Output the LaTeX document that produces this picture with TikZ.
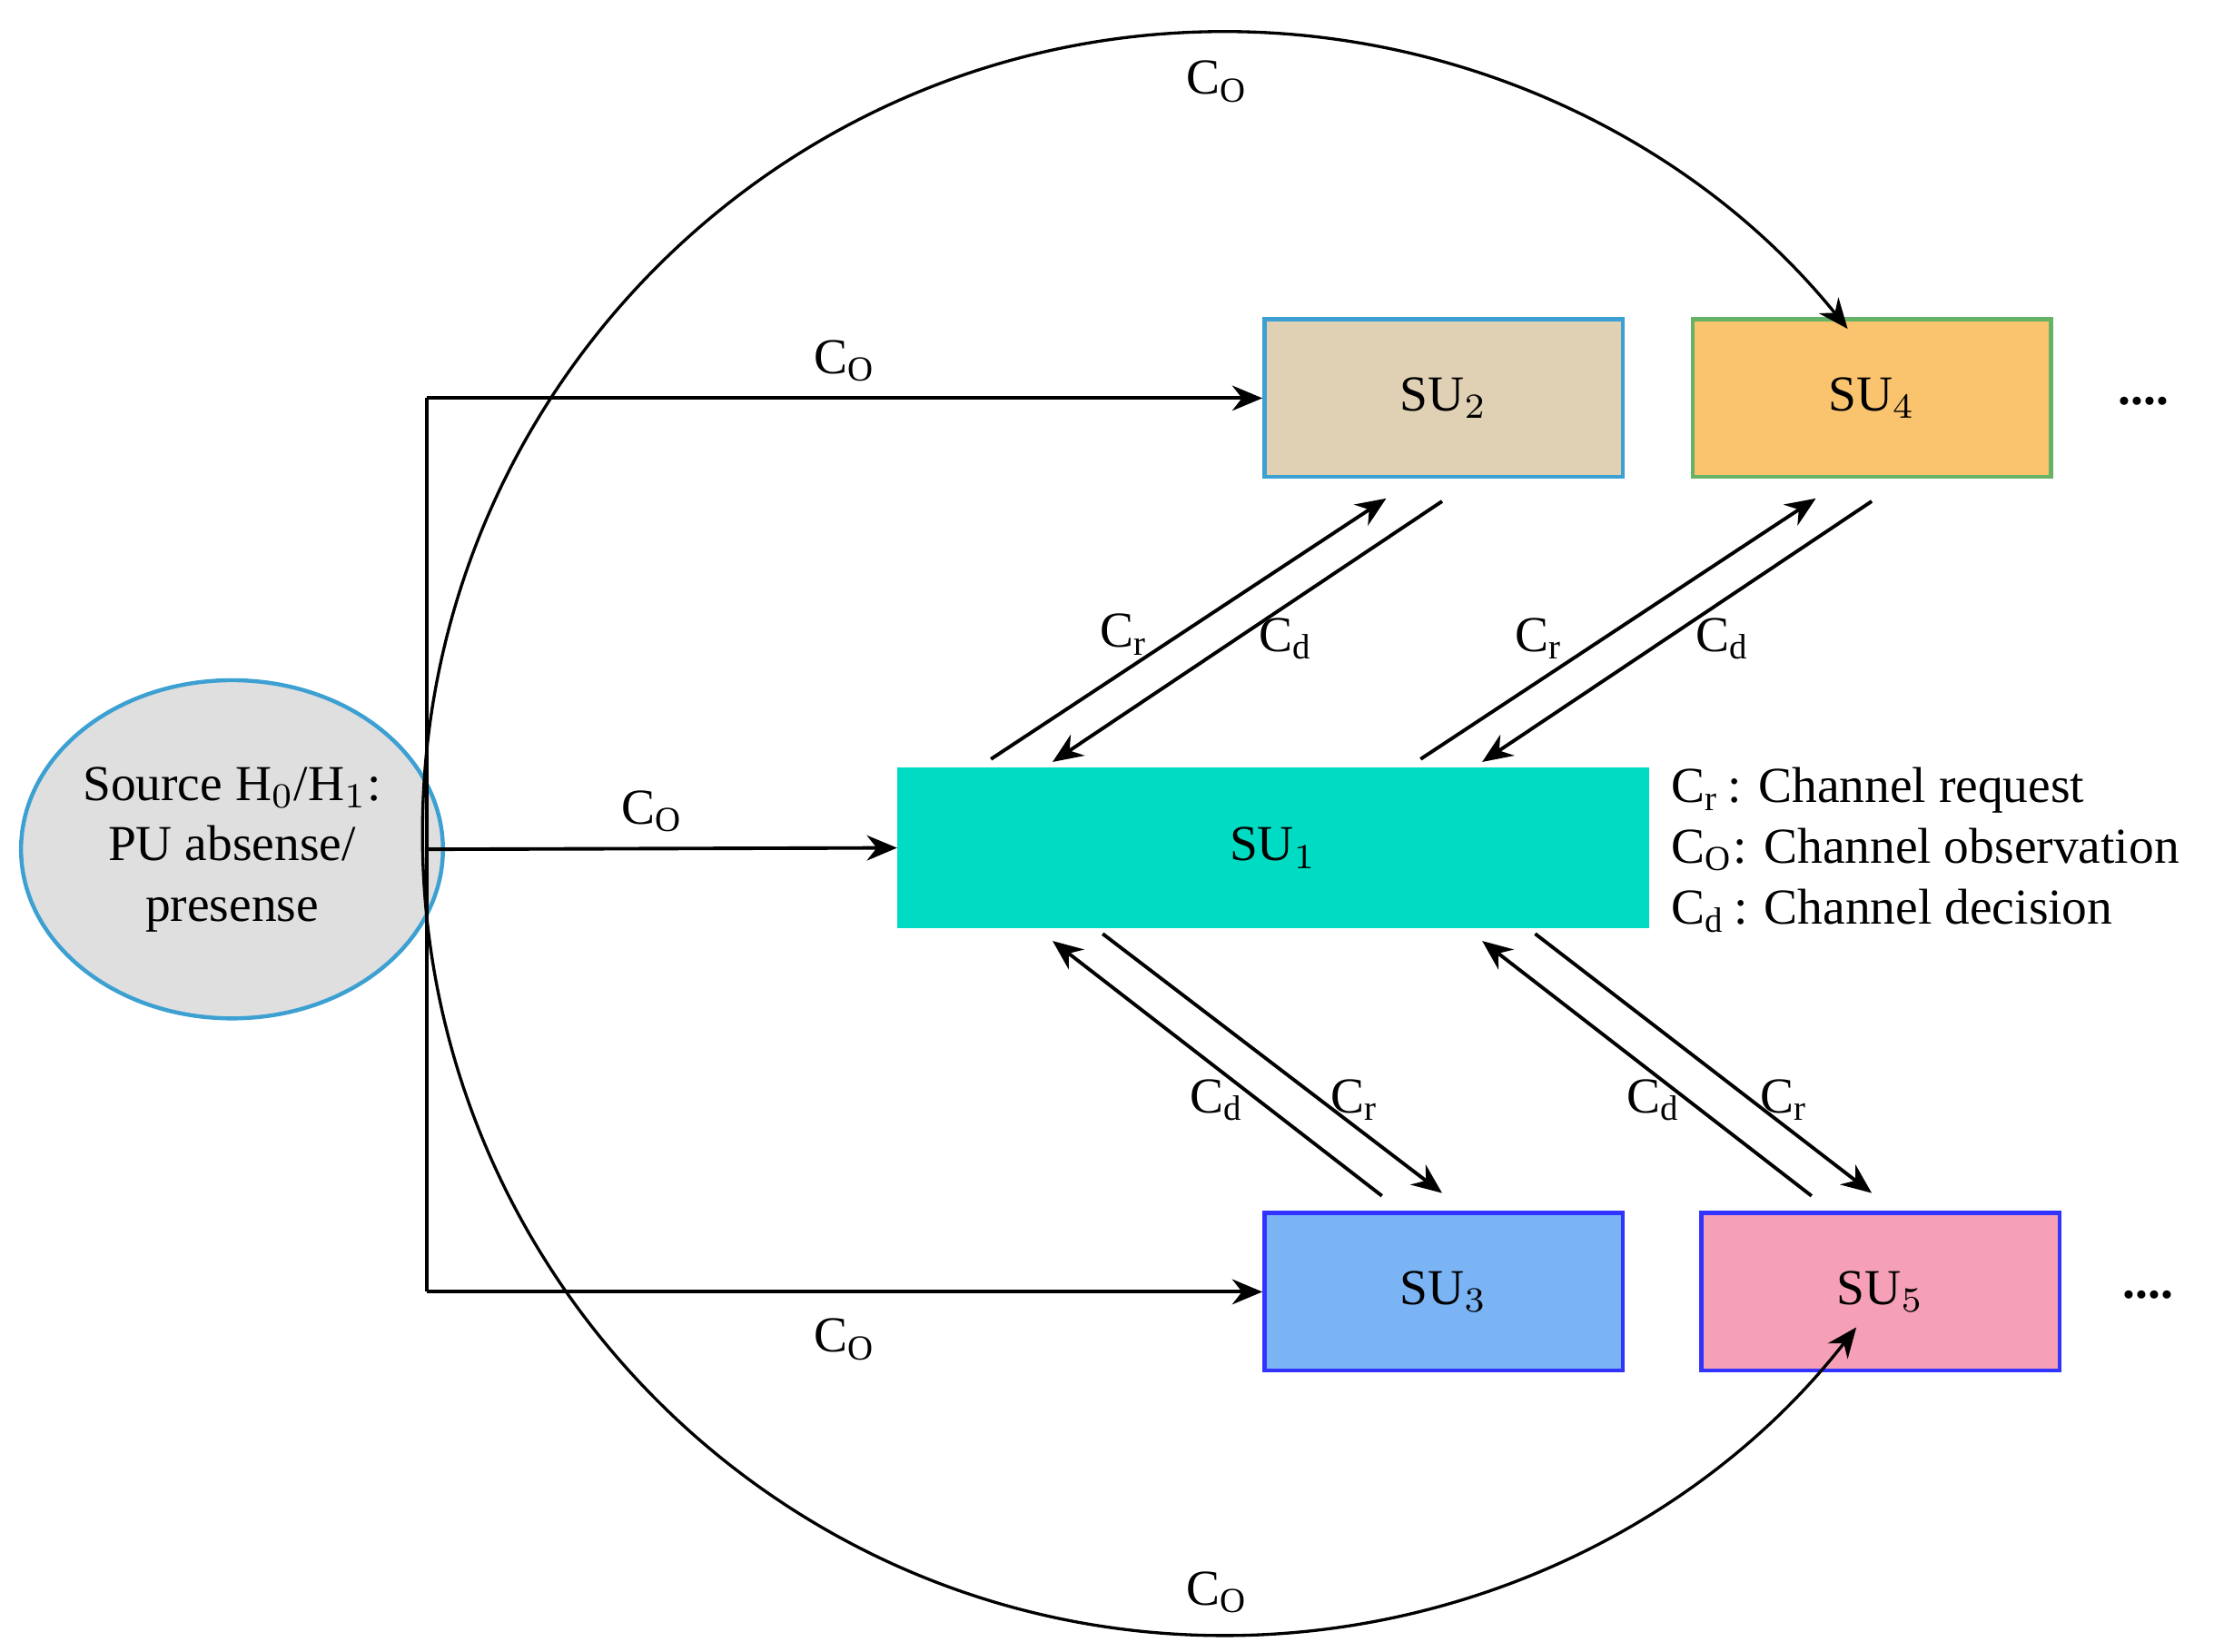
\documentclass[tikz,border=0pt]{standalone}
\usepackage{fontspec}
\setmainfont{Liberation Serif}
\usetikzlibrary{arrows.meta,shapes.geometric}
\definecolor{tan}{RGB}{224,208,180}
\definecolor{org}{RGB}{250,196,110}
\definecolor{teal}{RGB}{0,220,195}
\definecolor{blu}{RGB}{122,180,245}
\definecolor{pnk}{RGB}{245,160,182}
\definecolor{edge}{RGB}{60,160,210}
\begin{document}
\begin{tikzpicture}[x=0.01cm,y=-0.01cm,
  box/.style={draw=edge,line width=0.8pt,minimum width=2.5cm,minimum height=1.1cm,inner sep=0pt},
  arr/.style={-{Stealth[length=6pt,width=5pt]},line width=0.7pt},
  lbl/.style={font=\fontsize{10}{12}\selectfont,inner sep=1pt},
  every node/.style={font=\fontsize{10}{12}\selectfont}]
\useasboundingbox (0,0) rectangle (1560,1153);
\node[ellipse,draw=edge,fill=gray!25,line width=0.8pt,minimum width=2.7cm,minimum height=2.36cm,align=center,inner sep=0pt] (src) at (162,593) {Source H$_0$/H$_1$:\\PU absense/\\presense};
\node[box,fill=tan] (su2) at (1008,278) {SU$_2$};
\node[box,fill=org,draw=green!50!black!60] (su4) at (1307,278) {SU$_4$};
\node[box,fill=teal,draw=teal,minimum width=5.22cm,minimum height=1.09cm] (su1) at (889,592) {SU$_1$};
\node[box,fill=blu,draw=blue!80] (su3) at (1008,902) {SU$_3$};
\node[box,fill=pnk,draw=blue!80] (su5) at (1313,902) {SU$_5$};
\coordinate (t) at (298,278);
\coordinate (b) at (298,902);
\coordinate (m) at (298,593);
\draw[line width=0.7pt] (t) -- (b);
\draw[arr] (t) -- (su2.west) node[lbl,midway,above=2pt] {C$_\mathrm{O}$};
\draw[arr] (m) -- (su1.west) node[lbl,pos=0.48,above=2pt] {C$_\mathrm{O}$};
\draw[arr] (b) -- (su3.west) node[lbl,midway,below=4pt] {C$_\mathrm{O}$};
% big arcs
\draw[arr,line width=0.6pt] (295,582) arc[start angle=180,end angle=38,radius=560];
\draw[arr,line width=0.6pt] (295,582) arc[start angle=180,end angle=321,radius=560];
\node[lbl] (ct) at (850,57) {C$_\mathrm{O}$};
\node[lbl] (cb) at (850,1112) {C$_\mathrm{O}$};
% top diagonals
\coordinate (a1) at (692,530); \coordinate (a2) at (968,348);
\coordinate (a3) at (1007,350); \coordinate (a4) at (735,532);
\coordinate (a5) at (992,530); \coordinate (a6) at (1268,348);
\coordinate (a7) at (1307,350); \coordinate (a8) at (1035,532);
\draw[arr] (a1) -- (a2); \draw[arr] (a3) -- (a4);
\draw[arr] (a5) -- (a6); \draw[arr] (a7) -- (a8);
\node[lbl] at (785,443) {C$_\mathrm{r}$};
\node[lbl] at (898,446) {C$_\mathrm{d}$};
\node[lbl] at (1075,446) {C$_\mathrm{r}$};
\node[lbl] at (1203,446) {C$_\mathrm{d}$};
% bottom diagonals
\coordinate (b1) at (965,835); \coordinate (b2) at (735,657);
\coordinate (b3) at (770,652); \coordinate (b4) at (1007,833);
\coordinate (b5) at (1265,835); \coordinate (b6) at (1035,657);
\coordinate (b7) at (1072,652); \coordinate (b8) at (1307,833);
\draw[arr] (b1) -- (b2); \draw[arr] (b3) -- (b4);
\draw[arr] (b5) -- (b6); \draw[arr] (b7) -- (b8);
\node[lbl] at (850,768) {C$_\mathrm{d}$};
\node[lbl] at (946,768) {C$_\mathrm{r}$};
\node[lbl] at (1155,768) {C$_\mathrm{d}$};
\node[lbl] at (1246,768) {C$_\mathrm{r}$};
% legend
\node[lbl,anchor=west] at (1163,552) {C$_\mathrm{r}$\,: Channel request};
\node[lbl,anchor=west] at (1163,593) {C$_\mathrm{O}$: Channel observation};
\node[lbl,anchor=west] at (1163,636) {C$_\mathrm{d}$\,: Channel decision};
\node[lbl] at (1497,280) {\textbf{....}};
\node[lbl] at (1500,904) {\textbf{....}};
\end{tikzpicture}
\end{document}
